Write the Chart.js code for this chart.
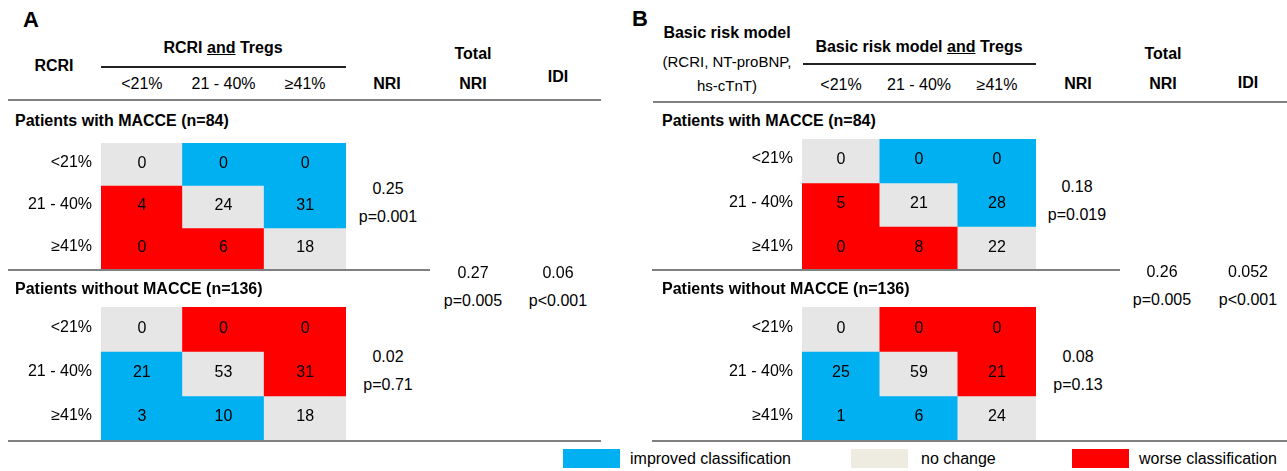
<!DOCTYPE html>
<html>
<head>
<meta charset="utf-8">
<script src="https://cdn.jsdelivr.net/npm/chart.js@4.4.1/dist/chart.umd.min.js"></script>
<style>
  body { margin: 0; background: #fff; }
  #fig { position: relative; width: 1287px; height: 471px; overflow: hidden;
         font-family: "Liberation Sans", Arial, sans-serif; color: #000; background: #fff; }
  .t { position: absolute; white-space: nowrap; line-height: 1; }
  .rule { position: absolute; }
  canvas { position: absolute; }
</style>
</head>
<body>
<div id="fig"></div>
<script>
// Risk classes used for both the reference model (rows) and the model with Tregs (columns)
const riskCategories = ['<21%', '21 - 40%', '\u226541%'];

// Reclassification counts, rows = reference model, columns = model with Tregs
const rcriWithMacce      = [[0, 0, 0], [4, 24, 31], [0, 6, 18]];
const rcriWithoutMacce   = [[0, 0, 0], [21, 53, 31], [3, 10, 18]];
const basicWithMacce     = [[0, 0, 0], [5, 21, 28], [0, 8, 22]];
const basicWithoutMacce  = [[0, 0, 0], [25, 59, 21], [1, 6, 24]];

// Net reclassification index per outcome group, overall NRI and IDI
const nriRcri      = ['0.25', '0.02'];
const nriRcriP     = ['p=0.001', 'p=0.71'];
const totalNriRcri = ['0.27', 'p=0.005'];
const idiRcri      = ['0.06', 'p<0.001'];
const nriBasic      = ['0.18', '0.08'];
const nriBasicP     = ['p=0.019', 'p=0.13'];
const totalNriBasic = ['0.26', 'p=0.005'];
const idiBasic      = ['0.052', 'p<0.001'];

const legendItems = ['improved classification', 'no change', 'worse classification'];

const COLORS = { improved: '#00B0F0', same: '#E7E6E6', worse: '#FF0000', legendSame: '#EEECE1' };
const FONT = '"Liberation Sans", Arial, sans-serif';
Chart.defaults.font.family = FONT;

const fig = document.getElementById('fig');

function put(html, x, y, opt = {}) {
  const d = document.createElement('div');
  d.className = 't';
  d.innerHTML = html;
  d.style.left = x + 'px';
  d.style.top = y + 'px';
  d.style.fontSize = (opt.size || 16) + 'px';
  d.style.fontWeight = opt.bold ? '700' : '400';
  const a = opt.align || 'center';
  d.style.transform = a === 'center' ? 'translate(-50%,-50%)'
                    : a === 'left' ? 'translate(0,-50%)' : 'translate(-100%,-50%)';
  fig.appendChild(d);
  return d;
}
function esc(s) { return s.replace(/&/g, '&amp;').replace(/</g, '&lt;'); }

function rule(x1, x2, y, w, color) {
  const d = document.createElement('div');
  d.className = 'rule';
  d.style.left = x1 + 'px';
  d.style.width = (x2 - x1) + 'px';
  d.style.top = (y - w / 2) + 'px';
  d.style.height = w + 'px';
  d.style.background = color;
  fig.appendChild(d);
}

// Cell colour: above the diagonal the new model moves a patient up a class
function cellColor(r, c, eventGroup) {
  if (r === c) return COLORS.same;
  const up = c > r;
  return (up === eventGroup) ? COLORS.improved : COLORS.worse;
}

// Writes the counts in the cells and the row class names beside them
const cellText = {
  id: 'cellText',
  afterDatasetsDraw(chart) {
    const { ctx, chartArea, scales } = chart;
    const counts = chart.options.plugins.cellText.counts;
    ctx.save();
    ctx.font = '16px ' + FONT;
    ctx.fillStyle = '#000';
    ctx.textBaseline = 'middle';
    ctx.textAlign = 'center';
    chart.data.datasets.forEach((ds, r) => {
      chart.getDatasetMeta(r).data.forEach((el, c) => {
        ctx.fillText(String(counts[r][c]), el.x, (el.y + el.base) / 2 - 1);
      });
    });
    ctx.textAlign = 'right';
    riskCategories.forEach((lab, r) => {
      ctx.fillText(lab, chartArea.left - 9, scales.y.getPixelForValue(r + 0.5) - 2);
    });
    ctx.restore();
  }
};

function heatmap(counts, eventGroup, cellLeft, cellRight, top, bottom, labelRoom) {
  const cv = document.createElement('canvas');
  const w = cellRight - cellLeft + labelRoom;
  const h = bottom - top;
  cv.width = w; cv.height = h;
  cv.style.width = w + 'px'; cv.style.height = h + 'px';
  cv.style.left = (cellLeft - labelRoom) + 'px';
  cv.style.top = top + 'px';
  fig.appendChild(cv);
  const datasets = riskCategories.map((_, r) => ({
    label: riskCategories[r],
    data: riskCategories.map(() => 1),
    backgroundColor: riskCategories.map((_, c) => cellColor(r, c, eventGroup)),
    borderWidth: 0,
    inflateAmount: 0.5,
    barPercentage: 1,
    categoryPercentage: 1
  }));
  const chart = new Chart(cv, {
    type: 'bar',
    data: { labels: riskCategories, datasets },
    options: {
      responsive: false,
      animation: false,
      devicePixelRatio: 1,
      layout: { padding: { left: labelRoom, right: 0, top: 0, bottom: 0 } },
      plugins: { legend: { display: false }, tooltip: { enabled: false }, cellText: { counts } },
      scales: {
        x: { type: 'category', stacked: true, display: false },
        y: { type: 'linear', stacked: true, min: 0, max: 3, reverse: true, display: false }
      }
    },
    plugins: [cellText]
  });
  return { chart, offset: cellLeft - labelRoom };
}

// ---------- Panel A: RCRI ----------
put('A', 23, 20, { bold: true, size: 22, align: 'left' });
put('RCRI', 54, 66, { bold: true });
put('RCRI <u>and</u> Tregs', 223, 48, { bold: true });
rule(101, 346, 67, 1.5, '#222');
put('NRI', 387, 84, { bold: true });
put('Total', 473, 54, { bold: true });
put('NRI', 473, 84, { bold: true });
put('IDI', 558, 77, { bold: true });
rule(8, 601, 100, 2, '#808080');
put('Patients with MACCE (n=84)', 15, 121, { bold: true, align: 'left' });
const a1 = heatmap(rcriWithMacce, true, 101, 346, 143, 270, 101);
put(nriRcri[0], 388, 189); put(nriRcriP[0], 388, 217);
rule(8, 430, 270, 2, '#808080');
put(totalNriRcri[0], 473, 273); put(totalNriRcri[1], 473, 301);
put(idiRcri[0], 558, 273); put(idiRcri[1], 558, 301);
put('Patients without MACCE (n=136)', 15, 289, { bold: true, align: 'left' });
heatmap(rcriWithoutMacce, false, 101, 346, 307, 440, 101);
put(nriRcri[1], 388, 357); put(nriRcriP[1], 388, 385);
rule(8, 601, 441, 2, '#808080');

// ---------- Panel B: basic risk model ----------
put('B', 632, 19, { bold: true, size: 22, align: 'left' });
put('Basic risk model', 727, 33, { bold: true });
put('(RCRI, NT-proBNP,', 727, 61, { size: 15 });
put('hs-cTnT)', 727, 85, { size: 15 });
put('Basic risk model <u>and</u> Tregs', 919, 47, { bold: true });
rule(803, 1036, 64, 1.5, '#222');
put('NRI', 1078, 84, { bold: true });
put('Total', 1163, 54, { bold: true });
put('NRI', 1163, 84, { bold: true });
put('IDI', 1248, 83, { bold: true });
rule(653, 1287, 102, 2, '#808080');
put('Patients with MACCE (n=84)', 662, 121, { bold: true, align: 'left' });
const b1 = heatmap(basicWithMacce, true, 802, 1036, 139, 270, 150);
put(nriBasic[0], 1077, 187); put(nriBasicP[0], 1077, 215);
rule(652, 1120, 270, 2, '#808080');
put(totalNriBasic[0], 1162, 272); put(totalNriBasic[1], 1162, 300);
put(idiBasic[0], 1248, 272); put(idiBasic[1], 1248, 300);
put('Patients without MACCE (n=136)', 662, 289, { bold: true, align: 'left' });
heatmap(basicWithoutMacce, false, 802, 1036, 307, 440, 150);
put(nriBasic[1], 1078, 357); put(nriBasicP[1], 1078, 385);
rule(652, 1287, 441, 2, '#808080');

// Column class names placed over the cell columns of each panel
[[a1, 84], [b1, 85]].forEach(([hm, y]) => {
  riskCategories.forEach((lab, i) => {
    put(esc(lab), hm.offset + hm.chart.scales.x.getPixelForValue(i), y);
  });
});

// ---------- Legend ----------
const legendSwatches = [COLORS.improved, COLORS.legendSame, COLORS.worse];
const legendBoxLeft = [563, 851, 1072];
const legendTextLeft = [630, 921, 1139];
legendItems.forEach((txt, i) => {
  const b = document.createElement('div');
  b.className = 'rule';
  b.style.left = legendBoxLeft[i] + 'px';
  b.style.top = '449px';
  b.style.width = '57px';
  b.style.height = '19px';
  b.style.background = legendSwatches[i];
  fig.appendChild(b);
  put(txt, legendTextLeft[i], 459, { align: 'left' });
});
</script>
</body>
</html>
